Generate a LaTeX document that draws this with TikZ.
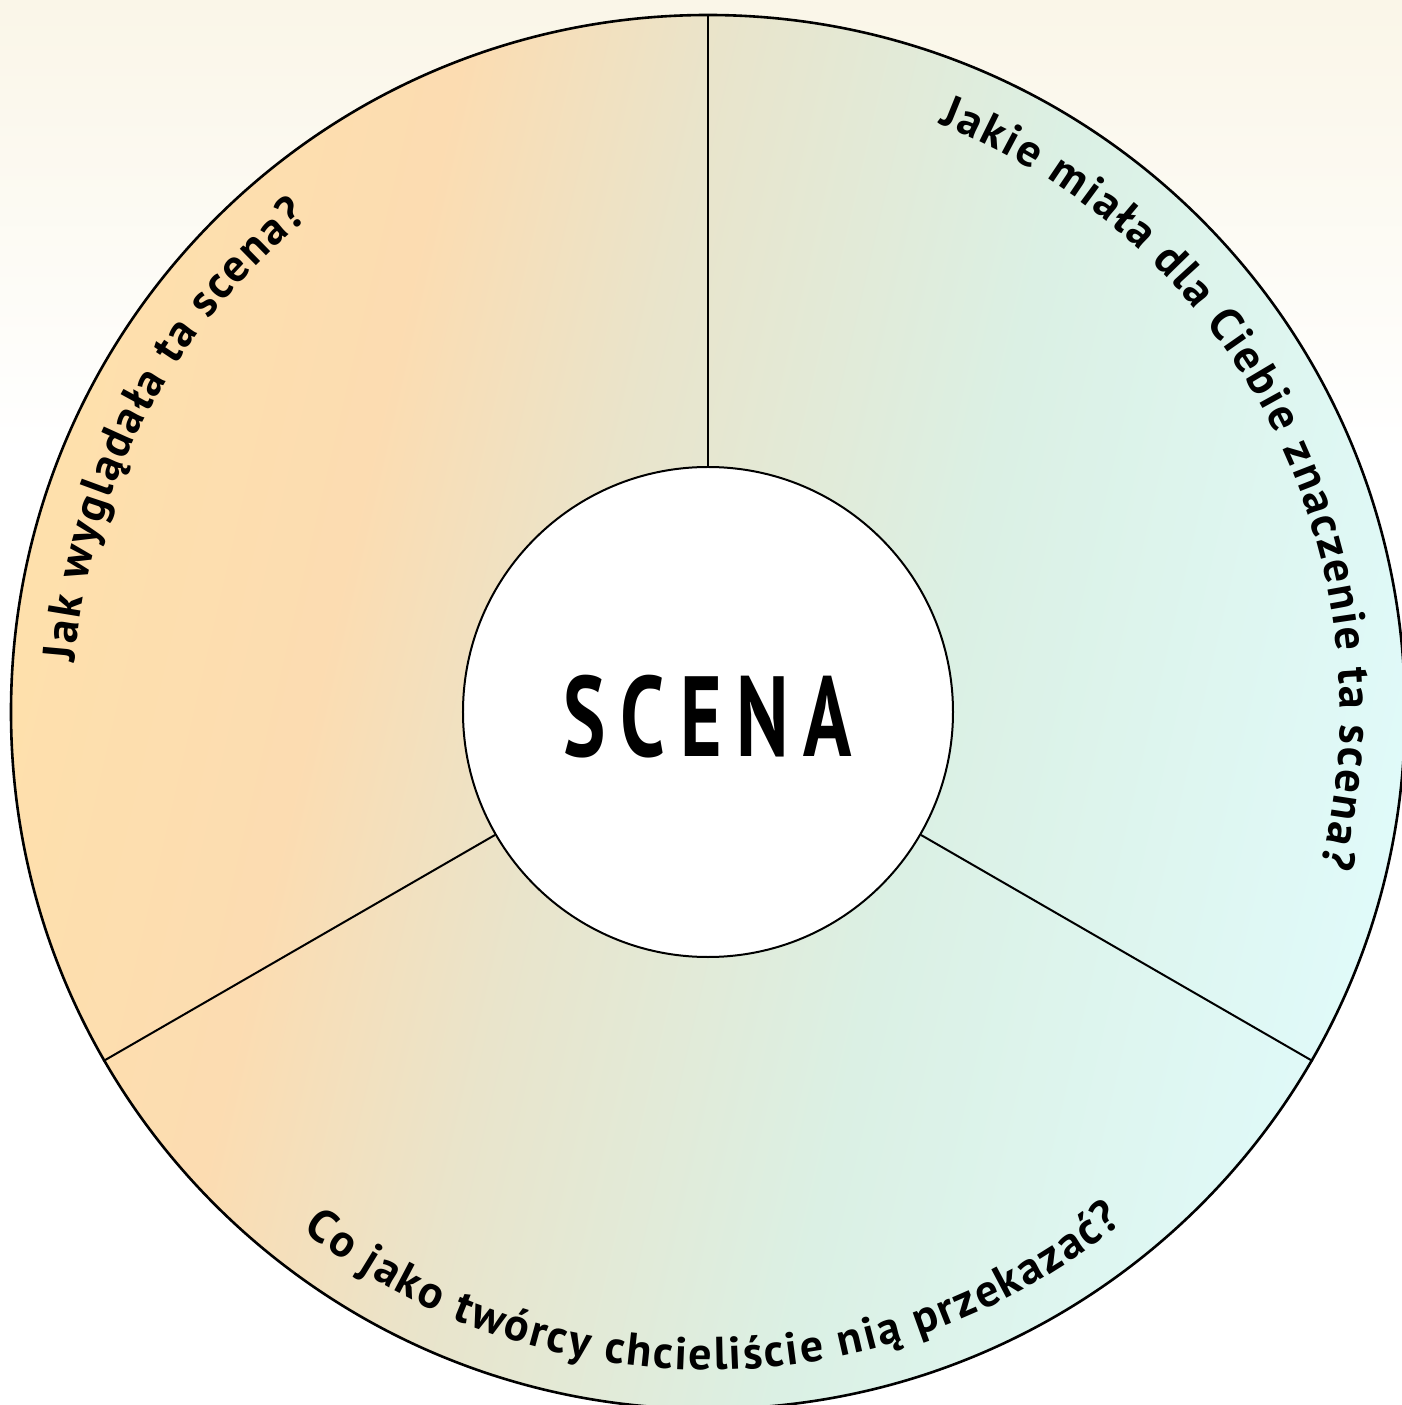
\documentclass[tikz,border=0pt]{standalone}
\usepackage{fontspec}
\setmainfont{PT Sans}
\usetikzlibrary{decorations.text}
\definecolor{creamtop}{RGB}{250,246,232}
\definecolor{ringA}{RGB}{254,224,172}
\definecolor{ringB}{RGB}{252,220,177}
\definecolor{ringC}{RGB}{233,228,203}
\definecolor{ringD}{RGB}{219,240,228}
\definecolor{ringE}{RGB}{224,250,249}
\pgfdeclarehorizontalshading{ringshade}{100bp}{color(0bp)=(ringA); color(25bp)=(ringA); color(36bp)=(ringB); color(45bp)=(ringC); color(58bp)=(ringD); color(75bp)=(ringE); color(100bp)=(ringE)}
\newcommand{\qfont}{\bfseries\fontsize{46}{55}\selectfont}
\newcommand{\scenagap}{\kern21pt}
\tikzset{
  ringdisk/.style={circle, inner sep=0pt, minimum size=1394pt, draw=black, line width=2.6pt, shade, shading=ringshade, shading angle=-13},
  hubdisk/.style={circle, inner sep=0pt, minimum size=490pt, draw=black, line width=2pt, fill=white},
  divider/.style={draw=black, line width=2pt},
  titletext/.style={inner sep=0pt, font=\bfseries\fontsize{114}{120}\selectfont},
  qtext/.style={decorate, decoration={text along path, text align={fit to path}, text={|\qfont|#1}}}
}
\begin{document}
\begin{tikzpicture}[x=1pt,y=1pt]
\useasboundingbox (-708,-693) rectangle (694,712);
\shade[top color=creamtop, bottom color=white] (-708,712) rectangle (694,260);
\node[ringdisk] (ring) at (0,0) {};
\node[hubdisk] (hub) at (0,0) {};
\node[titletext] (title) at ([yshift=-5pt]hub.center) {\scalebox{0.7}[1]{S\scenagap C\scenagap E\scenagap N\scenagap A}};
\draw[divider] (hub.90) -- (ring.90);
\draw[divider] (hub.210) -- (ring.210);
\draw[divider] (hub.330) -- (ring.330);
\path[qtext={Jak wyglądała ta scena?}] (175.5:635) arc[start angle=175.5, end angle=129, radius=635];
\path[qtext={Jakie miała dla Ciebie znaczenie ta scena?}] (68.6:632) arc[start angle=68.6, end angle=-14, radius=632];
\path[qtext={Co jako twórcy chcieliście nią przekazać?}] (232:658) arc[start angle=232, end angle=309, radius=658];
\end{tikzpicture}
\end{document}
